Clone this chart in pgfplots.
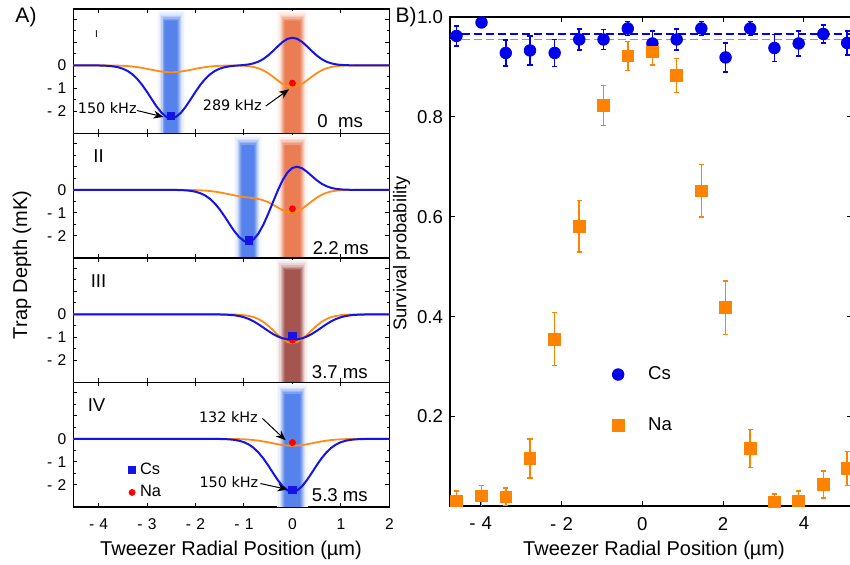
\documentclass[border=0pt]{standalone}
\usepackage{fontspec}
\setmainfont{Liberation Sans}
\newfontfamily\dejavu{DejaVu Sans}
\usepackage{pgfplots}
\pgfplotsset{compat=1.18}
\usetikzlibrary{arrows.meta}

\definecolor{cvblue}{RGB}{20,20,230}
\definecolor{cvorange}{RGB}{255,140,20}
\definecolor{barblue}{RGB}{85,130,235}
\definecolor{barorange}{RGB}{235,125,85}
\definecolor{barmix}{RGB}{165,85,80}
\definecolor{ptblue}{RGB}{0,0,235}
\definecolor{ptorange}{RGB}{255,130,0}

% blurred tweezer beam: centre, core half width, colour
\newcommand{\beam}[3]{%
  \fill[#3!5] (axis cs:{#1-#2-0.17},-3.5) rectangle (axis cs:{#1+#2+0.17},2.38);
  \fill[#3!12] (axis cs:{#1-#2-0.14},-3.5) rectangle (axis cs:{#1+#2+0.14},2.3);
  \fill[#3!24] (axis cs:{#1-#2-0.11},-3.5) rectangle (axis cs:{#1+#2+0.11},2.22);
  \fill[#3!40] (axis cs:{#1-#2-0.085},-3.5) rectangle (axis cs:{#1+#2+0.085},2.15);
  \fill[#3!58] (axis cs:{#1-#2-0.06},-3.5) rectangle (axis cs:{#1+#2+0.06},2.08);
  \fill[#3!76] (axis cs:{#1-#2-0.04},-3.5) rectangle (axis cs:{#1+#2+0.04},2.02);
  \fill[#3!90] (axis cs:{#1-#2-0.02},-3.5) rectangle (axis cs:{#1+#2+0.02},1.97);
  \fill[#3] (axis cs:{#1-#2},-3.5) rectangle (axis cs:{#1+#2},1.93);
}

\tikzset{
  khz/.style={font=\dejavu\fontsize{7.2}{8}\selectfont},
  arr/.style={-{Stealth[length=5pt,width=4pt]}, line width=0.5pt},
  ms/.style={anchor=base east, font=\fontsize{9.3}{10}\selectfont},
  pl/.style={font=\fontsize{9.3}{10}\selectfont},
}
\pgfplotsset{
  lp/.style={
    anchor=south west, scale only axis,
    width=158pt, height=62.25pt,
    xmin=-4.52, xmax=2, ymin=-2.96, ymax=2.45,
    xtick={-4,-3,-2,-1,0,1,2}, xticklabels={},
    ytick={-2,-1,0,1,2}, yticklabels={-\,\,2,-\,\,1,0,,},
    minor y tick num=1,
    tick align=inside, major tick length=2pt, minor tick length=1.3pt,
    tick style={black, line width=0.5pt},
    axis line style={line width=0.6pt},
    ticklabel style={font=\fontsize{7.8}{8}\selectfont},
    xticklabel style={yshift=-2.5pt},
  },
  bc/.style={cvblue, line width=1pt, line join=round, mark=none},
  oc/.style={cvorange, line width=0.9pt, line join=round, mark=none},
  csm/.style={only marks, mark=square*, mark size=1.8pt, cvblue},
  nam/.style={only marks, mark=*, mark size=1.5pt, red},
  dotleg/.style={legend image code/.code={\draw[##1] plot coordinates {(0pt,0pt)}; \path[draw=none, fill=none] (0pt,0pt) -- (#1,0pt);}},
}

\begin{document}
\begin{tikzpicture}
\useasboundingbox (0,0) rectangle (425pt,282.5pt);

% ---------- panel I ----------
\begin{axis}[lp, at={(36.67pt,215.75pt)}]
\beam{-2.5}{0.12}{barblue}
\beam{0}{0.15}{barorange}
\addplot[oc] coordinates {(-4.52,0) (-4.1,0) (-4.0,-0.001) (-3.9,-0.001) (-3.8,-0.003) (-3.7,-0.006) (-3.6,-0.011) (-3.5,-0.019) (-3.4,-0.032) (-3.3,-0.051) (-3.2,-0.077) (-3.1,-0.111) (-3.0,-0.150) (-2.9,-0.193) (-2.8,-0.234) (-2.7,-0.269) (-2.6,-0.292) (-2.5,-0.300) (-2.4,-0.292) (-2.3,-0.269) (-2.2,-0.234) (-2.1,-0.193) (-2.0,-0.150) (-1.9,-0.111) (-1.8,-0.077) (-1.7,-0.051) (-1.6,-0.032) (-1.5,-0.019) (-1.4,-0.011) (-1.3,-0.007) (-1.2,-0.006) (-1.1,-0.008) (-1.0,-0.017) (-0.9,-0.035) (-0.8,-0.070) (-0.7,-0.129) (-0.6,-0.219) (-0.5,-0.342) (-0.4,-0.494) (-0.3,-0.658) (-0.2,-0.807) (-0.1,-0.912) (0,-0.950) (0.1,-0.912) (0.2,-0.807) (0.3,-0.658) (0.4,-0.494) (0.5,-0.342) (0.6,-0.219) (0.7,-0.129) (0.8,-0.070) (0.9,-0.035) (1.0,-0.016) (1.1,-0.007) (1.2,-0.003) (1.3,-0.001) (1.4,0) (2,0)};
\addplot[bc] coordinates {(-4.52,0) (-4.2,0) (-4.1,-0.002) (-4.0,-0.005) (-3.9,-0.010) (-3.8,-0.021) (-3.7,-0.043) (-3.6,-0.081) (-3.5,-0.144) (-3.4,-0.244) (-3.3,-0.391) (-3.2,-0.593) (-3.1,-0.849) (-3.0,-1.151) (-2.9,-1.477) (-2.8,-1.793) (-2.7,-2.059) (-2.6,-2.237) (-2.5,-2.300) (-2.4,-2.237) (-2.3,-2.059) (-2.2,-1.793) (-2.1,-1.477) (-2.0,-1.151) (-1.9,-0.849) (-1.8,-0.593) (-1.7,-0.391) (-1.6,-0.244) (-1.5,-0.144) (-1.4,-0.080) (-1.3,-0.042) (-1.2,-0.018) (-1.1,-0.001) (-1.0,0.016) (-0.9,0.042) (-0.8,0.088) (-0.7,0.162) (-0.6,0.276) (-0.5,0.433) (-0.4,0.625) (-0.3,0.831) (-0.2,1.019) (-0.1,1.152) (0,1.200) (0.1,1.152) (0.2,1.019) (0.3,0.831) (0.4,0.625) (0.5,0.433) (0.6,0.276) (0.7,0.162) (0.8,0.088) (0.9,0.044) (1.0,0.020) (1.1,0.009) (1.2,0.003) (1.3,0.001) (1.4,0) (2,0)};
\addplot[csm] coordinates {(-2.5,-2.2)};
\addplot[nam] coordinates {(0,-0.77)};
\node[khz] at (axis cs:-3.82,-1.84) {150 kHz};
\draw[arr] (axis cs:-3.21,-1.96) -- (axis cs:-2.66,-2.24);
\node[khz] at (axis cs:-1.24,-1.71) {289 kHz};
\draw[arr] (axis cs:-0.55,-1.77) -- (axis cs:-0.07,-1.04);
\node[ms] at (axis cs:1.6,-2.72) {0~~ms};
\node[font=\fontsize{5}{6}\selectfont] at (axis cs:-4.04,1.38) {I};
\end{axis}

% ---------- panel II ----------
\begin{axis}[lp, at={(36.67pt,153.5pt)}]
\beam{-0.92}{0.12}{barblue}
\beam{0}{0.15}{barorange}
\addplot[oc] coordinates {(-4.52,0) (-2.5,0) (-2.4,-0.001) (-2.3,-0.001) (-2.2,-0.003) (-2.1,-0.006) (-2.0,-0.011) (-1.9,-0.019) (-1.8,-0.032) (-1.7,-0.051) (-1.6,-0.077) (-1.5,-0.111) (-1.4,-0.151) (-1.3,-0.194) (-1.2,-0.237) (-1.1,-0.275) (-1.0,-0.308) (-0.9,-0.335) (-0.8,-0.361) (-0.7,-0.397) (-0.6,-0.452) (-0.5,-0.535) (-0.4,-0.645) (-0.3,-0.769) (-0.2,-0.884) (-0.1,-0.963) (0,-0.982) (0.1,-0.931) (0.2,-0.817) (0.3,-0.664) (0.4,-0.497) (0.5,-0.344) (0.6,-0.219) (0.7,-0.129) (0.8,-0.070) (0.9,-0.035) (1.0,-0.016) (1.1,-0.007) (1.2,-0.003) (1.3,-0.001) (1.4,0) (2,0)};
\addplot[bc] coordinates {(-4.52,0) (-2.6,0) (-2.5,-0.002) (-2.4,-0.005) (-2.3,-0.010) (-2.2,-0.021) (-2.1,-0.043) (-2.0,-0.081) (-1.9,-0.144) (-1.8,-0.244) (-1.7,-0.391) (-1.6,-0.593) (-1.5,-0.849) (-1.4,-1.151) (-1.3,-1.476) (-1.2,-1.790) (-1.1,-2.050) (-1.0,-2.217) (-0.9,-2.256) (-0.8,-2.149) (-0.7,-1.897) (-0.6,-1.517) (-0.5,-1.045) (-0.4,-0.527) (-0.3,-0.018) (-0.2,0.427) (-0.1,0.761) (0,0.956) (0.1,1.008) (0.2,0.939) (0.3,0.788) (0.4,0.603) (0.5,0.422) (0.6,0.271) (0.7,0.161) (0.8,0.088) (0.9,0.044) (1.0,0.020) (1.1,0.009) (1.2,0.003) (1.3,0.001) (1.4,0) (2,0)};
\addplot[csm] coordinates {(-0.9,-2.2)};
\addplot[nam] coordinates {(0,-0.82)};
\node[ms] at (axis cs:1.72,-2.8) {2.2 ms};
\node[pl] at (axis cs:-4.0,1.48) {II};
\end{axis}

% ---------- panel III ----------
\begin{axis}[lp, at={(36.67pt,91.25pt)}]
\beam{0}{0.16}{barmix}
\addplot[oc] coordinates {(-4.52,0) (-1.6,0) (-1.5,-0.001) (-1.4,-0.001) (-1.3,-0.004) (-1.2,-0.008) (-1.1,-0.017) (-1.0,-0.035) (-0.9,-0.067) (-0.8,-0.121) (-0.7,-0.206) (-0.6,-0.329) (-0.5,-0.493) (-0.4,-0.687) (-0.3,-0.892) (-0.2,-1.075) (-0.1,-1.204) (0,-1.250) (0.1,-1.204) (0.2,-1.075) (0.3,-0.892) (0.4,-0.687) (0.5,-0.493) (0.6,-0.329) (0.7,-0.206) (0.8,-0.121) (0.9,-0.067) (1.0,-0.035) (1.1,-0.017) (1.2,-0.008) (1.3,-0.004) (1.4,-0.001) (1.5,-0.001) (1.6,0) (2,0)};
\addplot[bc] coordinates {(-4.52,0) (-1.7,0) (-1.6,-0.002) (-1.5,-0.005) (-1.4,-0.010) (-1.3,-0.020) (-1.2,-0.039) (-1.1,-0.072) (-1.0,-0.124) (-0.9,-0.200) (-0.8,-0.303) (-0.7,-0.430) (-0.6,-0.573) (-0.5,-0.719) (-0.4,-0.853) (-0.3,-0.962) (-0.2,-1.040) (-0.1,-1.085) (0,-1.100) (0.1,-1.085) (0.2,-1.040) (0.3,-0.962) (0.4,-0.853) (0.5,-0.719) (0.6,-0.573) (0.7,-0.430) (0.8,-0.303) (0.9,-0.200) (1.0,-0.124) (1.1,-0.072) (1.2,-0.039) (1.3,-0.020) (1.4,-0.010) (1.5,-0.005) (1.6,-0.002) (1.7,0) (2,0)};
\addplot[nam] coordinates {(0,-1.12)};
\addplot[csm] coordinates {(0,-0.95)};
\node[ms] at (axis cs:1.70,-2.8) {3.7 ms};
\node[pl] at (axis cs:-4.0,1.45) {III};
\end{axis}

% ---------- panel IV ----------
\begin{axis}[lp, at={(36.67pt,29pt)},
  xticklabels={-\,\,4,-\,\,3,-\,\,2,-\,\,1,0,1,2},
  legend style={at={(axis cs:-3.39,-0.85)}, anchor=north west, draw=none, fill=none,
    font=\fontsize{8.2}{8.2}\selectfont, row sep=0pt, inner sep=0pt},
  legend cell align=left]
\beam{0}{0.15}{barblue}
\addplot[oc, forget plot] coordinates {(-4.52,0) (-1.5,0) (-1.4,-0.001) (-1.3,-0.003) (-1.2,-0.006) (-1.1,-0.011) (-1.0,-0.019) (-0.9,-0.032) (-0.8,-0.051) (-0.7,-0.077) (-0.6,-0.111) (-0.5,-0.150) (-0.4,-0.193) (-0.3,-0.234) (-0.2,-0.269) (-0.1,-0.292) (0,-0.300) (0.1,-0.292) (0.2,-0.269) (0.3,-0.234) (0.4,-0.193) (0.5,-0.150) (0.6,-0.111) (0.7,-0.077) (0.8,-0.051) (0.9,-0.032) (1.0,-0.019) (1.1,-0.011) (1.2,-0.006) (1.3,-0.003) (1.4,-0.001) (1.5,0) (2,0)};
\addplot[bc, forget plot] coordinates {(-4.52,0) (-1.7,0) (-1.6,-0.002) (-1.5,-0.005) (-1.4,-0.010) (-1.3,-0.021) (-1.2,-0.043) (-1.1,-0.081) (-1.0,-0.144) (-0.9,-0.244) (-0.8,-0.391) (-0.7,-0.593) (-0.6,-0.849) (-0.5,-1.151) (-0.4,-1.477) (-0.3,-1.793) (-0.2,-2.059) (-0.1,-2.237) (0,-2.300) (0.1,-2.237) (0.2,-2.059) (0.3,-1.793) (0.4,-1.477) (0.5,-1.151) (0.6,-0.849) (0.7,-0.593) (0.8,-0.391) (0.9,-0.244) (1.0,-0.144) (1.1,-0.081) (1.2,-0.043) (1.3,-0.021) (1.4,-0.010) (1.5,-0.005) (1.6,-0.002) (1.7,0) (2,0)};
\addplot[csm, dotleg=2pt] coordinates {(0,-2.2)};
\addplot[nam, dotleg=2pt] coordinates {(0,-0.16)};
\legend{Cs,Na}
\node[khz] at (axis cs:-1.32,0.93) {132 kHz};
\draw[arr] (axis cs:-0.62,0.89) -- (axis cs:-0.14,-0.06);
\node[khz] at (axis cs:-1.31,-1.87) {150 kHz};
\draw[arr] (axis cs:-0.66,-1.94) -- (axis cs:-0.1,-2.2);
\node[ms] at (axis cs:1.70,-2.72) {5.3 ms};
\node[pl] at (axis cs:-4.04,1.47) {IV};
\end{axis}

% ---------- right panel ----------
\begin{axis}[at={(225pt,29.5pt)}, anchor=south west, scale only axis,
  width=201pt, height=244.5pt,
  xmin=-4.76, xmax=5.19, ymin=0.021, ymax=1.0,
  xtick={-4,-2,0,2,4}, xticklabels={-\,\,4,-\,\,2,0,2,4},
  ytick={0.2,0.4,0.6,0.8,1.0}, yticklabels={0.2,0.4,0.6,0.8,1.0},
  tick align=inside, major tick length=2.5pt,
  tick style={black, line width=0.5pt},
  axis line style={line width=0.6pt},
  ticklabel style={font=\fontsize{9.3}{10}\selectfont},
  xticklabel style={yshift=-2pt},
  legend style={at={(axis cs:-0.90,0.317)}, anchor=north west, draw=none, fill=none,
    font=\fontsize{9.3}{10}\selectfont, row sep=13.5pt},
  legend cell align=left]
\addplot[ptblue, dash pattern=on 4pt off 2pt, line width=0.7pt, forget plot] coordinates {(-4.76,0.966) (5.3,0.966)};
\addplot[ptorange, dash pattern=on 4pt off 2pt, line width=0.7pt, forget plot] coordinates {(-4.76,0.955) (5.3,0.955)};
\addplot[ptblue, only marks, mark=*, mark size=2.9pt, dotleg=13pt,
  error bars/.cd, y dir=both, y explicit,
  error bar style={line width=0.8pt, ptblue},
  error mark options={rotate=90, mark size=1.3pt, line width=0.8pt, ptblue}]
  coordinates {
  (-4.60,0.962) +- (0,0.020)
  (-3.98,0.989) +- (0,0.005)
  (-3.38,0.928) +- (0,0.026)
  (-2.78,0.933) +- (0,0.029)
  (-2.17,0.928) +- (0,0.027)
  (-1.56,0.955) +- (0,0.021)
  (-0.96,0.955) +- (0,0.020)
  (-0.36,0.977) +- (0,0.014)
  (0.25,0.947) +- (0,0.025)
  (0.85,0.955) +- (0,0.021)
  (1.46,0.977) +- (0,0.014)
  (2.06,0.919) +- (0,0.029)
  (2.67,0.977) +- (0,0.014)
  (3.27,0.938) +- (0,0.027)
  (3.87,0.947) +- (0,0.025)
  (4.48,0.966) +- (0,0.018)
  (5.07,0.948) +- (0,0.024)
  };
\addplot[ptorange, only marks, mark=square*, mark size=2.9pt, dotleg=13pt,
  error bars/.cd, y dir=both, y explicit,
  error bar style={line width=0.8pt, ptorange},
  error mark options={rotate=90, mark size=1.3pt, line width=0.8pt, ptorange}]
  coordinates {
  (-4.60,0.031) +- (0,0.020)
  (-3.98,0.041) +- (0,0.021)
  (-3.38,0.039) +- (0,0.018)
  (-2.78,0.116) +- (0,0.039)
  (-2.17,0.355) +- (0,0.053)
  (-1.56,0.581) +- (0,0.052)
  (-0.96,0.823) +- (0,0.040)
  (-0.36,0.922) +- (0,0.029)
  (0.25,0.930) +- (0,0.026)
  (0.85,0.883) +- (0,0.034)
  (1.46,0.652) +- (0,0.053)
  (2.06,0.418) +- (0,0.054)
  (2.67,0.136) +- (0,0.038)
  (3.27,0.029) +- (0,0.016)
  (3.87,0.031) +- (0,0.020)
  (4.48,0.064) +- (0,0.027)
  (5.07,0.096) +- (0,0.034)
  };
\legend{Cs,Na}
\end{axis}

% ---------- labels ----------
\node[rotate=90, font=\fontsize{10}{12}\selectfont] at (11pt,150pt) {Trap Depth (mK)};
\node[font=\fontsize{10}{12}\selectfont] at (115.5pt,7.5pt) {Tweezer Radial Position (µm)};
\node[font=\fontsize{10}{12}\selectfont] at (327pt,7.5pt) {Tweezer Radial Position (µm)};
\node[rotate=90, font=\fontsize{9.2}{11}\selectfont] at (200.8pt,155.7pt) {Survival probability};
\node[font=\fontsize{10.5}{12}\selectfont] at (13pt,273.8pt) {A)};
\node[font=\fontsize{10.5}{12}\selectfont] at (203pt,273.8pt) {B)};
\end{tikzpicture}
\end{document}
